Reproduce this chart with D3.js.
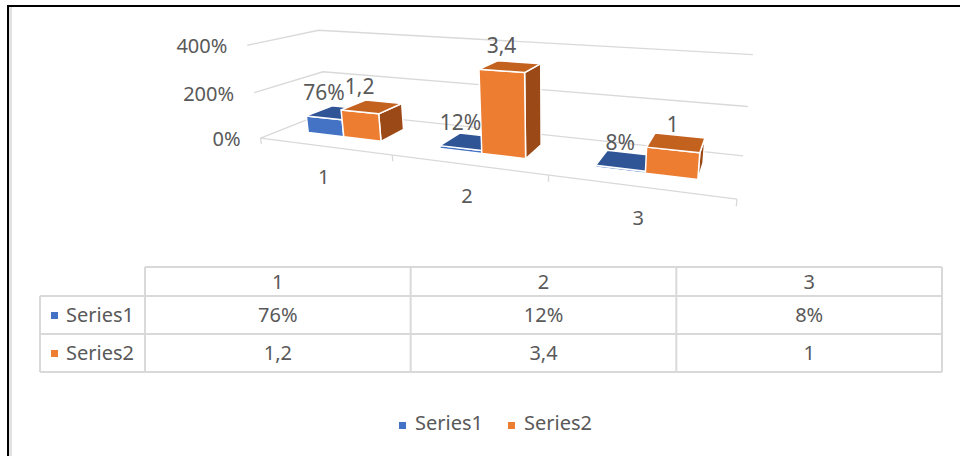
<!DOCTYPE html>
<html>
<head>
<meta charset="utf-8">
<script src="https://cdn.jsdelivr.net/npm/d3@7"></script>
<style>
  html, body { margin: 0; padding: 0; background: #fff; }
  svg { display: block; font-family: "Noto Sans", sans-serif; }
</style>
</head>
<body>
<svg id="chart" width="960" height="456"></svg>
<script>
// ---- data ----
const categories = ["1", "2", "3"];
const seriesNames = ["Series1", "Series2"];
const series1 = [0.76, 0.12, 0.08];
const series2 = [1.2, 3.4, 1];
const valueTicks = [0, 2, 4];
const valueTickLabels = ["0%", "200%", "400%"];

// ---- styles ----
const textColor = "#595959";
const gridColor = "#d9d9d9";
const palette = {
  Series1: { front: "#4472c4", top: "#2f5597", side: "#264478" },
  Series2: { front: "#ed7d31", top: "#c3611f", side: "#9b4a17" }
};

// label formats: percent for Series1, comma decimals for Series2
const fmtPct = d3.format(".0%");
const commaLocale = d3.formatLocale({ decimal: ",", thousands: ".", grouping: [3], currency: ["", ""] });
const fmtNum = commaLocale.format("~g");
const seriesData = [
  { name: seriesNames[0], values: series1, fmt: fmtPct },
  { name: seriesNames[1], values: series2, fmt: fmtNum }
];

// ---- perspective plot box: world corners (x, value, depth) -> screen ----
const frameAnchors = [
  { world: [0, 0, 0],   screen: [260, 140] },
  { world: [1, 0, 0],   screen: [737, 198] },
  { world: [0, 0.5, 0], screen: [254, 92] },
  { world: [0, 1, 0],   screen: [248, 45] },
  { world: [0, 0, 1],   screen: [328, 110] },
  { world: [1, 0, 1],   screen: [743, 157] },
  { world: [0, 0.5, 1], screen: [323, 72] },
  { world: [1, 0.5, 1], screen: [748, 107] },
  { world: [0, 1, 1],   screen: [318, 31] },
  { world: [1, 1, 1],   screen: [753, 54] }
];

function solveLinear(M) {
  const n = M.length, A = M.map(r => r.slice());
  for (let c = 0; c < n; c++) {
    let piv = c;
    for (let r = c + 1; r < n; r++) if (Math.abs(A[r][c]) > Math.abs(A[piv][c])) piv = r;
    [A[c], A[piv]] = [A[piv], A[c]];
    for (let r = 0; r < n; r++) {
      if (r === c) continue;
      const f = A[r][c] / A[c][c];
      for (let k = c; k <= n; k++) A[r][k] -= f * A[c][k];
    }
  }
  return A.map((r, i) => r[n] / r[i]);
}

function fitCamera(anchors) {
  const S = 480, cx = 480, cy = 228;
  const rows = [], rhs = [];
  anchors.forEach(a => {
    const [X, Y, Z] = a.world;
    const u = (a.screen[0] - cx) / S, v = (a.screen[1] - cy) / S;
    rows.push([X, Y, Z, 1, 0, 0, 0, 0, -u * X, -u * Y, -u * Z]); rhs.push(u);
    rows.push([0, 0, 0, 0, X, Y, Z, 1, -v * X, -v * Y, -v * Z]); rhs.push(v);
  });
  const n = 11;
  const N = Array.from({ length: n }, () => new Array(n + 1).fill(0));
  rows.forEach((r, k) => {
    for (let i = 0; i < n; i++) {
      for (let j = 0; j < n; j++) N[i][j] += r[i] * r[j];
      N[i][n] += r[i] * rhs[k];
    }
  });
  const p = solveLinear(N);
  const P = [[p[0], p[1], p[2], p[3]], [p[4], p[5], p[6], p[7]], [p[8], p[9], p[10], 1]];
  const project = ([X, Y, Z]) => {
    const w = P[2][0] * X + P[2][1] * Y + P[2][2] * Z + P[2][3];
    const u = (P[0][0] * X + P[0][1] * Y + P[0][2] * Z + P[0][3]) / w;
    const v = (P[1][0] * X + P[1][1] * Y + P[1][2] * Z + P[1][3]) / w;
    return [u * S + cx, v * S + cy];
  };
  const eye = solveLinear(P.map(r => [r[0], r[1], r[2], -r[3]]));
  return { project, eye };
}

const { project, eye } = fitCamera(frameAnchors);

// ---- scales ----
const x = d3.scaleBand().domain(categories).range([0, 1]);
const xSeries = d3.scaleBand().domain(seriesNames).range([0, x.bandwidth()]).paddingInner(0).paddingOuter(0.75);
const y = d3.scaleLinear().domain([0, 4]).range([0, 1]);
const barDepth = [0.3, 0.7];

const svg = d3.select("#chart");
const pathOf = pts => "M" + pts.map(p => project(p).join(",")).join("L") + "Z";

// ---- outer frame ----
svg.append("line").attr("x1", 10.5).attr("x2", 10.5).attr("y1", 7).attr("y2", 456)
  .attr("stroke", "#e2e2e2").attr("stroke-width", 3);
svg.append("line").attr("x1", 7).attr("x2", 960).attr("y1", 6).attr("y2", 6)
  .attr("stroke", "#000").attr("stroke-width", 2);
svg.append("line").attr("x1", 8).attr("x2", 8).attr("y1", 5).attr("y2", 456)
  .attr("stroke", "#000").attr("stroke-width", 2);

// ---- gridlines on side and back walls ----
const grid = svg.append("g").attr("fill", "none").attr("stroke", gridColor).attr("stroke-width", 1.3);
valueTicks.forEach(t => {
  const v = y(t);
  const pts = [[0, v, 0], [0, v, 1], [1, v, 1]].map(project);
  grid.append("path").attr("d", d3.line()(pts));
});

// value axis labels
svg.append("g").selectAll("text").data(valueTicks).join("text")
  .attr("x", t => project([0, y(t), 0])[0] - 20)
  .attr("y", t => project([0, y(t), 0])[1] + 1)
  .attr("dy", "0.35em")
  .attr("text-anchor", "end")
  .attr("font-size", 20).attr("fill", textColor)
  .text((t, i) => valueTickLabels[i]);

// category axis along the front edge of the floor, with ticks
const axis = svg.append("g").attr("fill", "none").attr("stroke", gridColor).attr("stroke-width", 1.3);
axis.append("path").attr("d", d3.line()([[0, 0, 0], [1, 0, 0]].map(project)));
const tickPositions = categories.map(c => x(c)).concat([1]);
tickPositions.forEach(tx => {
  axis.append("path").attr("d", d3.line()([[tx, 0, 0], [tx, -0.065, 0]].map(project)));
});
svg.append("g").selectAll("text").data(categories).join("text")
  .attr("x", c => project([x(c) + x.bandwidth() / 2, 0, 0])[0])
  .attr("y", c => project([x(c) + x.bandwidth() / 2, 0, 0])[1] + 31)
  .attr("dy", "0.35em")
  .attr("text-anchor", "middle")
  .attr("font-size", 20).attr("fill", textColor)
  .text(c => c);

// ---- 3D columns ----
const bars = [];
categories.forEach((c, i) => {
  seriesData.forEach(s => {
    const x0 = x(c) + xSeries(s.name), x1 = x0 + xSeries.bandwidth();
    bars.push({ cat: c, series: s.name, value: s.values[i], label: s.fmt(s.values[i]), x0, x1 });
  });
});
// paint farthest columns first
bars.sort((a, b) => Math.abs(eye[0] - (b.x0 + b.x1) / 2) - Math.abs(eye[0] - (a.x0 + a.x1) / 2));

const barLayer = svg.append("g").attr("stroke", "#fff").attr("stroke-width", 1.5).attr("stroke-linejoin", "round");
bars.forEach(b => {
  const [z0, z1] = barDepth, h = y(b.value), col = palette[b.series];
  const faces = [];
  if (eye[0] < b.x0) faces.push({ pts: [[b.x0, 0, z0], [b.x0, 0, z1], [b.x0, h, z1], [b.x0, h, z0]], fill: col.side });
  if (eye[0] > b.x1) faces.push({ pts: [[b.x1, 0, z0], [b.x1, 0, z1], [b.x1, h, z1], [b.x1, h, z0]], fill: col.side });
  if (eye[2] < z0) faces.push({ pts: [[b.x0, 0, z0], [b.x1, 0, z0], [b.x1, h, z0], [b.x0, h, z0]], fill: col.front });
  if (eye[1] > h) faces.push({ pts: [[b.x0, h, z0], [b.x1, h, z0], [b.x1, h, z1], [b.x0, h, z1]], fill: col.top });
  const g = barLayer.append("g");
  faces.forEach(f => g.append("path").attr("d", pathOf(f.pts)).attr("fill", f.fill));
});

// data labels above each column
svg.append("g").selectAll("text").data(bars).join("text")
  .attr("x", b => project([(b.x0 + b.x1) / 2, y(b.value), barDepth[0]])[0])
  .attr("y", b => project([(b.x0 + b.x1) / 2, y(b.value), barDepth[0]])[1] - 25)
  .attr("dy", "0.35em")
  .attr("text-anchor", "middle")
  .attr("font-size", 21).attr("fill", textColor)
  .text(b => b.label);

// ---- data table ----
const tableLeft = 40, tableRight = 942, labelColRight = 145;
const rowEdges = [267, 296, 334, 372];
const col = d3.scaleBand().domain(categories).range([labelColRight, tableRight]);
const table = svg.append("g");
const tLines = table.append("g").attr("stroke", gridColor).attr("stroke-width", 2).attr("fill", "none");
tLines.append("line").attr("x1", labelColRight).attr("x2", tableRight).attr("y1", rowEdges[0]).attr("y2", rowEdges[0]);
rowEdges.slice(1).forEach(ry => {
  tLines.append("line").attr("x1", tableLeft).attr("x2", tableRight).attr("y1", ry).attr("y2", ry);
});
tLines.append("line").attr("x1", tableLeft).attr("x2", tableLeft).attr("y1", rowEdges[1]).attr("y2", rowEdges[3]);
categories.concat([null]).forEach(c => {
  const cx = c === null ? tableRight : col(c);
  tLines.append("line").attr("x1", cx).attr("x2", cx).attr("y1", rowEdges[0]).attr("y2", rowEdges[3]);
});
const rowMid = i => (rowEdges[i] + rowEdges[i + 1]) / 2;
table.append("g").selectAll("text").data(categories).join("text")
  .attr("x", c => col(c) + col.bandwidth() / 2).attr("y", rowMid(0)).attr("dy", "0.35em")
  .attr("text-anchor", "middle").attr("font-size", 20).attr("fill", textColor).text(c => c);
seriesData.forEach((s, si) => {
  const ry = rowMid(si + 1);
  table.append("rect").attr("x", 51).attr("y", ry - 3).attr("width", 7).attr("height", 7)
    .attr("fill", palette[s.name].front);
  table.append("text").attr("x", 66).attr("y", ry).attr("dy", "0.35em")
    .attr("font-size", 20).attr("fill", textColor).text(s.name);
  table.append("g").selectAll("text").data(categories).join("text")
    .attr("x", c => col(c) + col.bandwidth() / 2).attr("y", ry).attr("dy", "0.35em")
    .attr("text-anchor", "middle").attr("font-size", 20).attr("fill", textColor)
    .text((c, i) => s.fmt(s.values[i]));
});

// ---- legend ----
const legend = svg.append("g");
let lx = 399;
const legendY = 423;
seriesData.forEach(s => {
  legend.append("rect").attr("x", lx).attr("y", legendY - 1).attr("width", 7).attr("height", 7)
    .attr("fill", palette[s.name].front);
  const t = legend.append("text").attr("x", lx + 16).attr("y", legendY).attr("dy", "0.35em")
    .attr("font-size", 20).attr("fill", textColor).text(s.name);
  lx += 16 + t.node().getComputedTextLength() + 25;
});
</script>
</body>
</html>
